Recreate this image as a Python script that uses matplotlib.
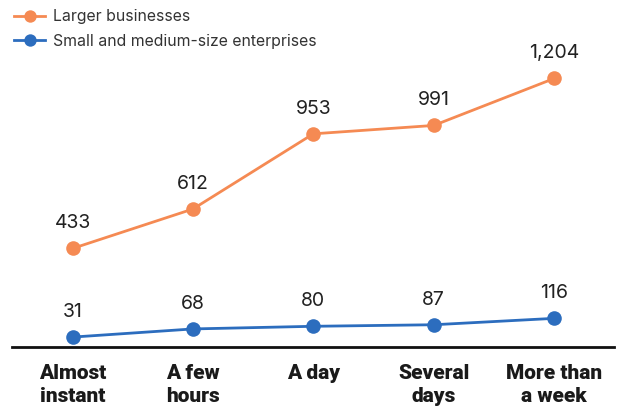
import matplotlib
matplotlib.use("Agg")
import matplotlib.pyplot as plt

categories = ["Almost\ninstant", "A few\nhours", "A day", "Several\ndays", "More than\na week"]
large = [433, 612, 953, 991, 1204]
sme = [31, 68, 80, 87, 116]

orange = "#F58A53"
blue = "#2C6DBE"

plt.rcParams["font.family"] = ["Inter", "DejaVu Sans"]

fig = plt.figure(figsize=(6.18, 4.12), dpi=100)
ax = fig.add_axes([0.02, 0.158, 0.974, 0.842])

x = range(len(categories))
ax.plot(x, large, color=orange, lw=2, marker="o", ms=10.5, mew=0, label="Larger businesses")
ax.plot(x, sme, color=blue, lw=2, marker="o", ms=10.5, mew=0, label="Small and medium-size enterprises")

for xi, v in zip(x, large):
    ax.annotate(f"{v:,}", (xi, v), xytext=(0, 18), textcoords="offset points",
                ha="center", va="center", fontsize=14, color="#222222")
for xi, v in zip(x, sme):
    ax.annotate(f"{v:,}", (xi, v), xytext=(0, 18), textcoords="offset points",
                ha="center", va="center", fontsize=14, color="#222222")

ax.set_xlim(-0.5, 4.5)
ax.set_ylim(-13.5, 1560)
ax.set_yticks([])
ax.set_xticks(list(x))
ax.set_xticklabels(categories, fontfamily=["Roboto", "DejaVu Sans"], fontweight="black",
                   fontsize=15, linespacing=1.32, color="#1a1a1a")
ax.tick_params(axis="x", length=0, pad=12)
for s in ["top", "right", "left"]:
    ax.spines[s].set_visible(False)
ax.spines["bottom"].set_linewidth(2)
ax.spines["bottom"].set_color("#111111")

leg = ax.legend(loc="upper left", bbox_to_anchor=(-0.015, 1.005), frameon=False,
                fontsize=11.4, handlelength=1.95, labelspacing=0.6, handletextpad=0.5,
                markerscale=0.85, borderpad=0.2, labelcolor="#333333")

fig.savefig("out.png", dpi=100)
